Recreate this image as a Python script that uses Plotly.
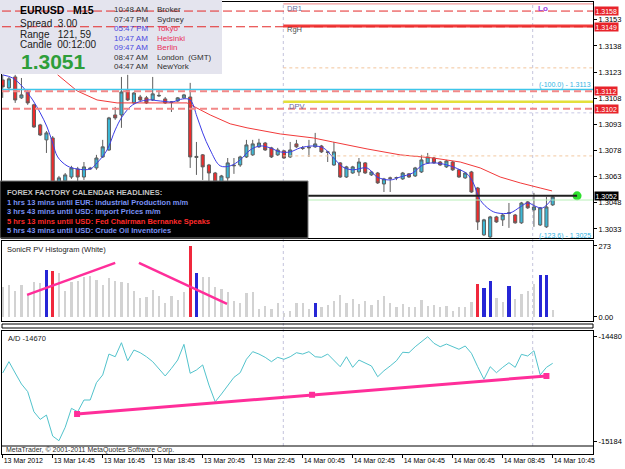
import plotly.graph_objects as go

FONT = "Liberation Sans"

# ---------------- data ----------------
bars = list(range(89))
tick_idx = [0, 8, 16, 24, 32, 40, 48, 56, 64, 72, 80, 88]
tick_text = ["13 Mar 2012", "13 Mar 14:45", "13 Mar 16:45", "13 Mar 18:45", "13 Mar 20:45",
             "13 Mar 22:45", "14 Mar 00:45", "14 Mar 02:45", "14 Mar 04:45", "14 Mar 06:45",
             "14 Mar 08:45", "14 Mar 10:45"]

open_ = [1.31185, 1.31139, 1.31202, 1.31082, 1.31116, 1.31042, 1.30927, 1.30841, 1.30852, 1.30594,
         1.30606, 1.30628, 1.30674, 1.30628, 1.30674, 1.30680, 1.30743, 1.30783, 1.30984, 1.30984,
         1.31128, 1.31053, 1.31087, 1.31082, 1.31070, 1.31093, 1.31076, 1.31059, 1.31064, 1.31082,
         1.31087, 1.30740, 1.30755, 1.30697, 1.30651, 1.30600, 1.30623, 1.30692, 1.30697, 1.30743,
         1.30755, 1.30801, 1.30823, 1.30795, 1.30755, 1.30778, 1.30743, 1.30818, 1.30795, 1.30795,
         1.30801, 1.30806, 1.30772, 1.30697, 1.30709, 1.30628, 1.30651, 1.30657, 1.30709, 1.30640,
         1.30651, 1.30588, 1.30623, 1.30623, 1.30617, 1.30646, 1.30634, 1.30657, 1.30709, 1.30737,
         1.30714, 1.30686, 1.30714, 1.30669, 1.30623, 1.30657, 1.30565, 1.30296, 1.30284, 1.30399,
         1.30382, 1.30420, 1.30410, 1.30365, 1.30485, 1.30439, 1.30353, 1.30342, 1.30468]
high = [1.31214, 1.31202, 1.31214, 1.31196, 1.31128, 1.31048, 1.30933, 1.30892, 1.30863, 1.30634,
        1.30651, 1.30692, 1.30686, 1.30714, 1.30686, 1.30755, 1.30841, 1.30973, 1.31030, 1.31202,
        1.31214, 1.31116, 1.31099, 1.31093, 1.31202, 1.31128, 1.31087, 1.31064, 1.31087, 1.31105,
        1.31168, 1.30829, 1.30760, 1.30703, 1.30657, 1.30640, 1.30737, 1.30737, 1.30750, 1.30841,
        1.30841, 1.30847, 1.30829, 1.30801, 1.30795, 1.30783, 1.30829, 1.30841, 1.30806, 1.30841,
        1.30881, 1.30812, 1.30778, 1.30829, 1.30714, 1.30692, 1.30692, 1.30737, 1.30714, 1.30663,
        1.30657, 1.30623, 1.30630, 1.30630, 1.30657, 1.30651, 1.30686, 1.30755, 1.30766, 1.30743,
        1.30720, 1.30726, 1.30720, 1.30674, 1.30657, 1.30663, 1.30571, 1.30388, 1.30405, 1.30405,
        1.30416, 1.30479, 1.30416, 1.30485, 1.30490, 1.30537, 1.30456, 1.30514, 1.30520]
low = [1.31082, 1.31116, 1.31053, 1.31076, 1.31042, 1.30910, 1.30863, 1.30766, 1.30531, 1.30548,
       1.30570, 1.30617, 1.30594, 1.30611, 1.30669, 1.30669, 1.30737, 1.30778, 1.30956, 1.30910,
       1.31064, 1.31047, 1.31064, 1.31047, 1.31064, 1.31087, 1.31047, 1.31001, 1.31059, 1.31076,
       1.30680, 1.30640, 1.30611, 1.30570, 1.30560, 1.30560, 1.30606, 1.30646, 1.30686, 1.30737,
       1.30749, 1.30795, 1.30778, 1.30737, 1.30749, 1.30732, 1.30737, 1.30795, 1.30783, 1.30743,
       1.30795, 1.30766, 1.30714, 1.30692, 1.30623, 1.30623, 1.30646, 1.30634, 1.30646, 1.30634,
       1.30588, 1.30542, 1.30542, 1.30610, 1.30611, 1.30623, 1.30628, 1.30651, 1.30703, 1.30703,
       1.30692, 1.30680, 1.30663, 1.30623, 1.30617, 1.30537, 1.30324, 1.30290, 1.30278, 1.30365,
       1.30347, 1.30336, 1.30360, 1.30359, 1.30445, 1.30342, 1.30347, 1.30336, 1.30462]
close = [1.31145, 1.31191, 1.31070, 1.31099, 1.31053, 1.30915, 1.30869, 1.30881, 1.30554, 1.30623,
         1.30640, 1.30680, 1.30628, 1.30686, 1.30678, 1.30737, 1.30801, 1.30967, 1.30967, 1.31116,
         1.31070, 1.31110, 1.31070, 1.31053, 1.31105, 1.31096, 1.31053, 1.31056, 1.31082, 1.31099,
         1.30743, 1.30746, 1.30686, 1.30651, 1.30600, 1.30634, 1.30709, 1.30695, 1.30743, 1.30812,
         1.30818, 1.30823, 1.30783, 1.30743, 1.30783, 1.30737, 1.30783, 1.30801, 1.30792, 1.30798,
         1.30818, 1.30772, 1.30770, 1.30772, 1.30628, 1.30686, 1.30686, 1.30714, 1.30651, 1.30657,
         1.30594, 1.30617, 1.30620, 1.30625, 1.30651, 1.30628, 1.30680, 1.30726, 1.30743, 1.30709,
         1.30697, 1.30720, 1.30669, 1.30628, 1.30651, 1.30542, 1.30370, 1.30382, 1.30399, 1.30370,
         1.30410, 1.30422, 1.30365, 1.30479, 1.30451, 1.30456, 1.30451, 1.30456, 1.30514]

# moving averages (bar position, price)
slow_ma_x = [8.8, 11.9, 15.1, 18.3, 29.5, 31.1, 33.2, 36.4, 39.1, 44.4, 49.7, 52.8, 58.3, 63.6,
             68.9, 73.2, 76.4, 79.6, 82.8, 86.0, 87.9]
slow_ma_y = [1.31214, 1.31122, 1.31070, 1.31053, 1.31053, 1.31024, 1.30984, 1.30933, 1.30910,
             1.30875, 1.30852, 1.30829, 1.30789, 1.30755, 1.30737, 1.30714, 1.30680, 1.30628,
             1.30594, 1.30565, 1.30548]
fast_ma_x = [0, 1.6, 3.2, 4.8, 6.0, 7.1, 8.0, 8.8, 10.3, 11.9, 14.0, 15.1, 16.7, 18.0, 19.1, 20.8,
             23.1, 25.2, 27.2, 28.8, 30.0, 31.1, 32.0, 33.2, 34.8, 36.4, 38.0, 39.6, 41.2, 42.8,
             44.4, 46.0, 47.6, 49.6, 51.3, 52.8, 54.4, 56.0, 58.3, 59.9, 62.0, 63.6, 65.6, 67.2,
             68.9, 71.1, 73.2, 74.3, 75.3, 76.4, 78.0, 79.1, 81.2, 82.8, 84.0, 85.5, 86.4, 87.9]
fast_ma_y = [1.31214, 1.31196, 1.31145, 1.31070, 1.30996, 1.30915, 1.30823, 1.30743, 1.30692,
             1.30674, 1.30674, 1.30709, 1.30783, 1.30898, 1.30973, 1.31042, 1.31070, 1.31064,
             1.31059, 1.31076, 1.31070, 1.30973, 1.30881, 1.30783, 1.30692, 1.30692, 1.30726,
             1.30783, 1.30806, 1.30795, 1.30772, 1.30772, 1.30795, 1.30806, 1.30795, 1.30743,
             1.30686, 1.30669, 1.30680, 1.30628, 1.30611, 1.30628, 1.30651, 1.30697, 1.30709,
             1.30697, 1.30669, 1.30646, 1.30594, 1.30496, 1.30439, 1.30422, 1.30422, 1.30456,
             1.30479, 1.30456, 1.30451, 1.30502]

volume = [116, 123, 101, 123, 85, 136, 132, 181, 178, 170,
          101, 136, 140, 153, 159, 142, 123, 149, 140, 136,
          130, 100, 72, 76, 104, 81, 53, 81, 65, 97,
          273, 170, 155, 155, 116, 106, 97, 61, 53, 94,
          95, 30, 44, 30, 55, 17, 24, 55, 55, 30,
          55, 40, 45, 60, 85, 55, 70, 50, 60, 45,
          65, 80, 55, 40, 50, 40, 37, 65, 44, 46,
          37, 44, 24, 40, 37, 59, 127, 110, 140, 72,
          59, 119, 68, 88, 100, 127, 161, 161, 27]
hist_red_bars = [8, 30, 76]
hist_blue_bars = [7, 31, 50, 77, 78, 81, 86, 87]
hist_trend1_x = [3.9, 18.0]
hist_trend1_y = [85, 208]
hist_trend2_x = [21.8, 35.9]
hist_trend2_y = [208, 50]

ad = [-14728, -14652, -14728, -14802, -14853, -14988, -15039, -15010, -15151, -15182,
      -15092, -14965, -14988, -14909, -14909, -14793, -14741, -14601, -14619, -14525,
      -14646, -14574, -14592, -14619, -14652, -14703, -14748, -14697, -14641, -14536,
      -14730, -14708, -14674, -14809, -14921, -14869, -14809, -14757, -14726, -14636,
      -14585, -14601, -14623, -14652, -14623, -14636, -14619, -14592, -14601, -14585,
      -14619, -14623, -14601, -14641, -14686, -14619, -14690, -14641, -14659, -14681,
      -14753, -14713, -14681, -14646, -14589, -14592, -14552, -14518, -14485, -14529,
      -14552, -14534, -14552, -14569, -14547, -14596, -14686, -14770, -14686, -14726,
      -14690, -14659, -14690, -14603, -14614, -14579, -14741, -14690, -14663]
ad_trend_x = [11.9, 49.5, 87.0]
ad_trend_y = [-15003, -14874, -14748]

price_ticks = [1.3153, 1.3138, 1.3123, 1.3108, 1.3093, 1.3078, 1.3063, 1.3048, 1.3033]
dashed_levels = [1.3158, 1.3149, 1.3112, 1.3102]
day_levels = [1.31621, 1.31495, 1.31254, 1.31059, 1.30996, 1.30749]
fib_level = 1.3113
bid_level = 1.3052
ask_level = 1.30496
bid_end = 91.9
day_separators = [44.9, 84.8]

# ---------------- helpers (layout pixel -> paper) ----------------
def PX(x):
    return (x - 2) / 591.0

def PY(y):
    return (454 - y) / 452.0

def txt(text, x, y, size=7.5, color="#202020", bold=False, anchor="left"):
    return dict(text="<b>%s</b>" % text if bold else text, x=PX(x), y=PY(y),
                xref="paper", yref="paper", xanchor=anchor, yanchor="middle",
                showarrow=False, font=dict(size=size, color=color, family=FONT))

fig = go.Figure()

fig.add_trace(go.Candlestick(
    x=bars, open=open_, high=high, low=low, close=close, xaxis="x", yaxis="y",
    increasing=dict(fillcolor="#3CB8D6", line=dict(color="#5E5E5E", width=1)),
    decreasing=dict(fillcolor="#F22A2A", line=dict(color="#5E5E5E", width=1)),
    whiskerwidth=0, hoverinfo="skip"))
fig.add_trace(go.Scatter(x=slow_ma_x, y=slow_ma_y, mode="lines", xaxis="x", yaxis="y",
                         line=dict(color="#F23A3A", width=1), hoverinfo="skip"))
fig.add_trace(go.Scatter(x=fast_ma_x, y=fast_ma_y, mode="lines", xaxis="x", yaxis="y",
                         line=dict(color="#3C3CE6", width=1, shape="spline"), hoverinfo="skip"))
fig.add_trace(go.Scatter(x=[bid_end], y=[bid_level], mode="markers", xaxis="x", yaxis="y",
                         marker=dict(color="#2EE02E", size=9), hoverinfo="skip"))

hcolors = []
hwidths = []
for i in bars:
    if i in hist_red_bars:
        hcolors.append("#F0283C"); hwidths.append(0.5)
    elif i in hist_blue_bars:
        hcolors.append("#2626D6"); hwidths.append(0.5)
    else:
        hcolors.append("#D2D2D2"); hwidths.append(0.38)
fig.add_trace(go.Bar(x=bars, y=volume, width=hwidths, xaxis="x2", yaxis="y2",
                     marker=dict(color=hcolors, line=dict(width=0)), hoverinfo="skip"))
for tx, ty in [(hist_trend1_x, hist_trend1_y), (hist_trend2_x, hist_trend2_y)]:
    fig.add_trace(go.Scatter(x=tx, y=ty, mode="lines", xaxis="x2", yaxis="y2",
                             line=dict(color="#FF2E9A", width=2.5), hoverinfo="skip"))

fig.add_trace(go.Scatter(x=bars, y=ad, mode="lines", xaxis="x3", yaxis="y3",
                         line=dict(color="#52C3CC", width=1), hoverinfo="skip"))
fig.add_trace(go.Scatter(x=ad_trend_x, y=ad_trend_y, mode="lines+markers", xaxis="x3", yaxis="y3",
                         line=dict(color="#FF2E9A", width=3),
                         marker=dict(symbol="square", size=6, color="#FF2E9A"), hoverinfo="skip"))

XR = [-0.11, 94.45]
shapes = []
for xs in day_separators:
    shapes.append(dict(type="line", xref="x", yref="paper", x0=xs, x1=xs, y0=PY(446), y1=1,
                       line=dict(color="#C4C4DC", width=1, dash="dot"), layer="below"))
day_styles = [("#F08080", 1, "solid"), ("#F23C3C", 3, "solid"), ("#F2C49A", 1, "dot"),
              ("#E4E03A", 2.5, "solid"), ("#C8C8E4", 1, "dot"), ("#F2C8A0", 1, "dot")]
for lv, (c, w, d) in zip(day_levels, day_styles):
    shapes.append(dict(type="line", xref="x", yref="y", x0=day_separators[0], x1=XR[1], y0=lv, y1=lv,
                       line=dict(color=c, width=w, dash=d), layer="above"))
shapes.append(dict(type="line", xref="x", yref="y", x0=XR[0], x1=XR[1], y0=fib_level, y1=fib_level,
                   line=dict(color="#3EC6EA", width=1.5), layer="above"))
shapes.append(dict(type="line", xref="x", yref="y", x0=XR[0], x1=XR[1], y0=ask_level, y1=ask_level,
                   line=dict(color="#B8F0B8", width=1), layer="above"))
shapes.append(dict(type="line", xref="x", yref="y", x0=XR[0], x1=bid_end, y0=bid_level, y1=bid_level,
                   line=dict(color="#202020", width=2), layer="above"))
shapes.append(dict(type="rect", xref="paper", yref="paper", x0=PX(0), x1=PX(308), y0=PY(238), y1=PY(181),
                   fillcolor="#000000", line=dict(color="#7A7A7A", width=1), layer="above"))
shapes.append(dict(type="rect", xref="paper", yref="paper", x0=PX(0), x1=PX(222), y0=PY(74), y1=PY(0),
                   fillcolor="#E4E4EE", line=dict(width=0), layer="above"))
dash_styles = [("#E42828", 1, "9px,4px"), ("#E42828", 1, "9px,4px"),
               ("#F28888", 2, "7px,4px"), ("#F28888", 2, "7px,4px")]
for lv, (c, w, d) in zip(dashed_levels, dash_styles):
    shapes.append(dict(type="line", xref="x", yref="y", x0=XR[0], x1=XR[1], y0=lv, y1=lv,
                       line=dict(color=c, width=w, dash=d), layer="above"))
shapes.append(dict(type="rect", xref="paper", yref="paper", x0=0, x1=1, y0=PY(328), y1=PY(324),
                   line=dict(color="#000000", width=1), layer="above"))
shapes.append(dict(type="line", xref="paper", yref="paper", x0=0, x1=1, y0=PY(446), y1=PY(446),
                   line=dict(color="#000000", width=1), layer="above"))

ann = []
for lv in dashed_levels:
    ann.append(dict(text="%.4f" % lv, x=1, y=lv, xref="paper", yref="y", xanchor="left",
                    yanchor="middle", xshift=1, showarrow=False, bgcolor="#E8232A", borderpad=0.5,
                    font=dict(size=7, color="white", family=FONT)))
ann.append(dict(text="%.4f" % bid_level, x=1, y=bid_level, xref="paper", yref="y", xanchor="left",
                yanchor="middle", xshift=1, showarrow=False, bgcolor="#000000", borderpad=0.5,
                font=dict(size=7, color="white", family=FONT)))

NB = "\u00a0"
ann.append(txt("EURUSD" + NB * 3 + "M15", 18, 10, 10.5, "#000000", bold=True))
ann.append(txt("Spread" + NB * 2 + "3.00", 18, 23, 10, "#202020"))
ann.append(txt("Range" + NB * 3 + "121, 59", 18, 34, 10, "#202020"))
ann.append(txt("Candle" + NB * 2 + "00:12:00", 18, 44.5, 10, "#202020"))
ann.append(txt("1.3051", 19, 61.5, 21, "#2E9E3A", bold=True))
clock_rows = [("10:48 AM", "Broker", "#303030", "#303030"),
              ("07:47 PM", "Sydney", "#303030", "#303030"),
              ("05:47 PM", "Tokyo", "#4A4AE0", "#E8305A"),
              ("10:47 AM", "Helsinki", "#4A4AE0", "#E8305A"),
              ("09:47 AM", "Berlin", "#4A4AE0", "#E8305A"),
              ("08:47 AM", "London" + NB * 2 + "(GMT)", "#303030", "#303030"),
              ("04:47 AM", "NewYork", "#303030", "#303030")]
for k, (t, city, c1, c2) in enumerate(clock_rows):
    yy = 9.5 + k * 9.5
    ann.append(txt(t, 112, yy, 8, c1))
    ann.append(txt(city, 155, yy, 8, c2))
news = [("FOREX FACTORY CALENDAR HEADLINES:", "#C4C4C4"),
        ("1 hrs 13 mins until EUR: Industrial Production m/m", "#7A92F4"),
        ("3 hrs 43 mins until USD: Import Prices m/m", "#7A92F4"),
        ("5 hrs 13 mins until USD: Fed Chairman Bernanke Speaks", "#FF2A2A"),
        ("5 hrs 43 mins until USD: Crude Oil Inventories", "#7A92F4")]
for k, (t, c) in enumerate(news):
    ann.append(txt(t, 5, 193 + k * 9.5 if k else 192, 7.5, c, bold=True))
ann.append(txt("DR1", 285, 8, 7.5, "#7070A0"))
ann.append(txt("RgH", 285, 29, 7.5, "#505050"))
ann.append(txt("DPV", 287, 107, 7.5, "#6A6A9A"))
ann.append(txt("Lo", 536, 8, 8, "#A040E0", bold=True))
ann.append(txt("(-100.0) - 1.3113", 537, 85, 7, "#30B4E4"))
ann.append(txt("(-123.6) - 1.3025", 537, 236, 7, "#30B4E4"))
ann.append(txt("SonicR PV Histogram (White)", 5, 249, 7.5, "#202020"))
ann.append(txt("A/D -14670", 6, 338, 7.5, "#202020"))
ann.append(txt("MetaTrader, \u00a9 2001-2011 MetaQuotes Software Corp.", 4, 450, 7, "#303030"))

axis_common = dict(showgrid=False, zeroline=False, showline=True, mirror=True,
                   linecolor="#000000", linewidth=1)
yaxis_common = dict(axis_common, side="right", ticks="outside", ticklen=3, tickcolor="#000000",
                    tickfont=dict(size=7.5, color="#000000", family=FONT))

fig.update_layout(
    width=625, height=469, margin=dict(l=2, r=32, t=2, b=15),
    paper_bgcolor="white", plot_bgcolor="rgba(0,0,0,0)", showlegend=False,
    bargap=0, shapes=shapes, annotations=ann,
    xaxis=dict(axis_common, domain=[0, 1], range=XR, anchor="y", showticklabels=False,
               rangeslider=dict(visible=False)),
    xaxis2=dict(axis_common, domain=[0, 1], range=XR, anchor="y2", showticklabels=False,
                matches="x"),
    xaxis3=dict(axis_common, domain=[0, 1], range=XR, anchor="y3", matches="x",
                tickvals=tick_idx, ticktext=tick_text, ticks="outside", ticklen=3,
                tickcolor="#000000", ticklabelposition="outside right", tickangle=0,
                tickfont=dict(size=7, color="#000000", family=FONT)),
    yaxis=dict(yaxis_common, domain=[PY(238), 1], range=[1.30278, 1.31632],
               tickvals=price_ticks, ticktext=["%.4f" % v for v in price_ticks], anchor="x"),
    yaxis2=dict(yaxis_common, domain=[PY(321), PY(241)], range=[-15.4, 292],
                tickvals=[273, 0], ticktext=["273", "0.00"], anchor="x2"),
    yaxis3=dict(yaxis_common, domain=[0, PY(331)], range=[-15271, -14446.5],
                tickvals=[-14480, -15184], ticktext=["-14480", "-15184"], anchor="x3"),
)

fig.write_html("out.html")
